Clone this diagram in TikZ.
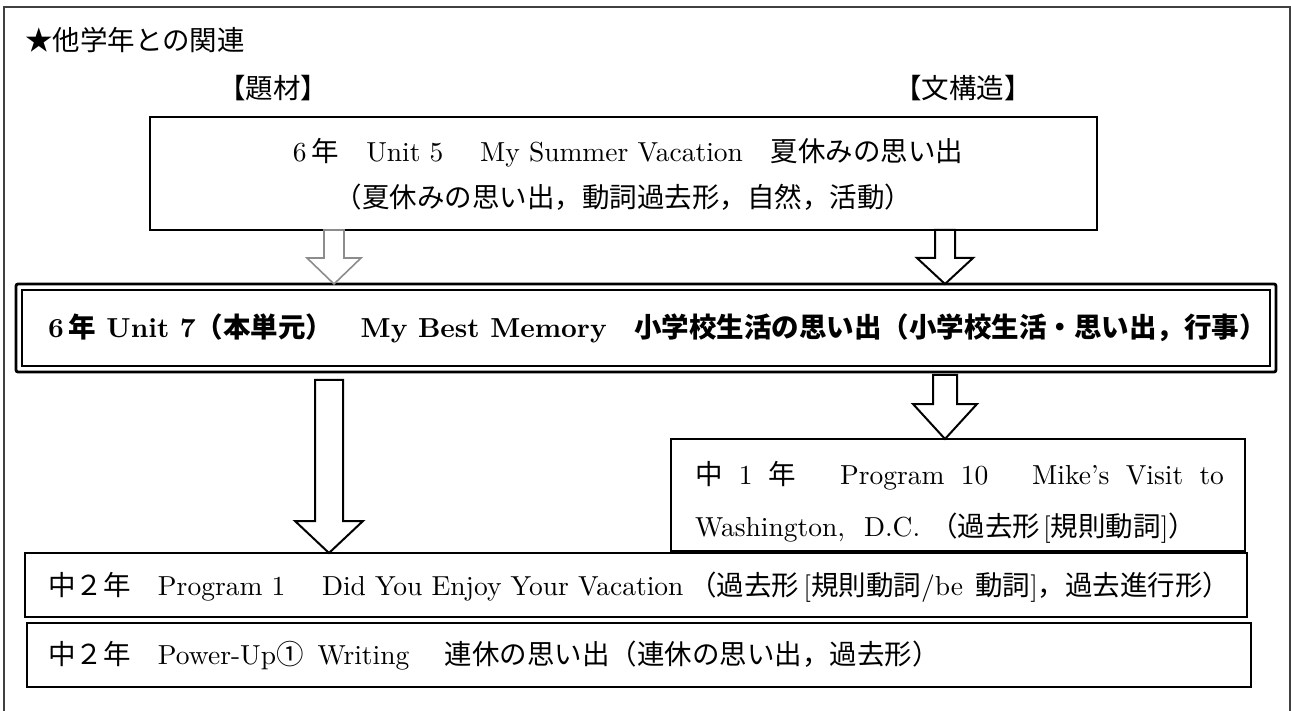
\documentclass[tikz,border=0pt]{standalone}
\usepackage{fontspec}
\setmainfont{lmroman10-regular}[Extension=.otf, BoldFont=lmroman10-bold, Ligatures=TeX]
\newfontfamily\cjk{Noto Sans CJK JP}
\newcommand\J[1]{{\cjk #1}}
\usetikzlibrary{calc}
\newcommand\blockarrow[6]{%
  \draw[#1] let \p1=#2, \p2=#3 in
    ({\x1-#4},\y1) -- ({\x1+#4},\y1) -- ({\x1+#4},{\y2+#6}) -- ({\x1+#5},{\y2+#6})
    -- (\x1,\y2) -- ({\x1-#5},{\y2+#6}) -- ({\x1-#4},{\y2+#6}) -- cycle;}
\begin{document}
\begin{tikzpicture}[x=1pt,y=-1pt,
  txt/.style={inner sep=0pt, outer sep=0pt, font=\fontsize{27.5}{32}\selectfont},
  box/.style={draw, line width=1.2pt, inner sep=0pt, outer sep=0pt, anchor=north west},
  mainbox/.style={draw, line width=2.8pt, rounded corners=2pt, inner sep=0pt, outer sep=0pt, anchor=north west},
  frameline/.style={draw=black!75, line width=1.2pt},
  grayarrow/.style={draw=black!45, fill=white, line width=1.6pt, line join=miter},
  blackarrow/.style={draw=black, fill=white, line width=2pt, line join=miter}]
\useasboundingbox (0,0) rectangle (1291,711);
\fill[white] (0,0) rectangle (1291,711);
\draw[frameline] (4,720) -- (4,7) -- (1290,7) -- (1290,720);

\node[txt, anchor=west] (title) at (25,40) {\J{★他学年との関連}};
\node[txt] (daizai) at (273,88) {\J{【題材】}};
\node[txt] (bunkozo) at (963,88) {\J{【文構造】}};

\node[box, minimum width=947pt, minimum height=113pt] (u5) at (150,117) {};
\node[txt] (u5a) at (628,153) {6\,\J{年　}Unit 5\J{　} My Summer Vacation\J{　夏休みの思い出}};
\node[txt] (u5b) at (623.5,197) {\J{（夏休みの思い出，動詞過去形，自然，活動）}};

\node[mainbox, minimum width=1260pt, minimum height=88pt] (u7) at (16,284) {};
\draw[line width=1.6pt] ([xshift=6pt,yshift=-6pt]u7.north west) rectangle ([xshift=-6pt,yshift=6pt]u7.south east);
\node[txt, anchor=west] (u7t) at (48,328) {\bfseries 6\,\J{年}~Unit 7\J{（本単元）　}My Best Memory\J{　小学校生活の思い出（小学校生活・思い出，行事）}};

\node[box, minimum width=574pt, minimum height=112pt] (m1) at (671,439) {};
\node[txt, anchor=west] (m1a) at (695,476) {\makebox[529pt][s]{\J{中} 1 \J{年} \J{　}Program 10 \J{　}Mike’s Visit to}};
\node[txt, anchor=west] (m1b) at (695,528) {Washington,\hspace{10pt} D.C.\hspace{10pt}\J{（過去形}\hspace{3pt}[\J{規則動詞}]\J{）}};

\node[box, minimum width=1222pt, minimum height=64pt] (p1) at (25,553) {};
\node[txt, anchor=west] (p1t) at (48,587) {\J{中２年　}Program 1 \J{　}Did You Enjoy Your Vacation\hspace{6pt}\J{（過去形}\hspace{4pt}[\J{規則動詞}/be\hspace{3pt} \J{動詞}]\J{，過去進行形）}};

\node[box, minimum width=1224pt, minimum height=64pt] (p2) at (27,623) {};
\node[txt, anchor=west] (p2t) at (48,656) {\J{中２年　}Power-Up\J{①}\hspace{14pt}Writing\hspace{8pt}\J{　連休の思い出（連休の思い出，過去形）}};

\blockarrow{grayarrow}{(334,0 |- u5.south)}{(334,0 |- u7.north)}{10pt}{27pt}{26pt}
\blockarrow{blackarrow}{(945,0 |- u5.south)}{(945,0 |- u7.north)}{10pt}{28pt}{26pt}
\coordinate (la) at (329,380);
\blockarrow{blackarrow}{(la)}{(329,0 |- p1.north)}{14pt}{34pt}{32pt}
\coordinate (ra) at (945,375);
\blockarrow{blackarrow}{(ra)}{(945,0 |- m1.north)}{12pt}{32pt}{35pt}
\end{tikzpicture}
\end{document}
